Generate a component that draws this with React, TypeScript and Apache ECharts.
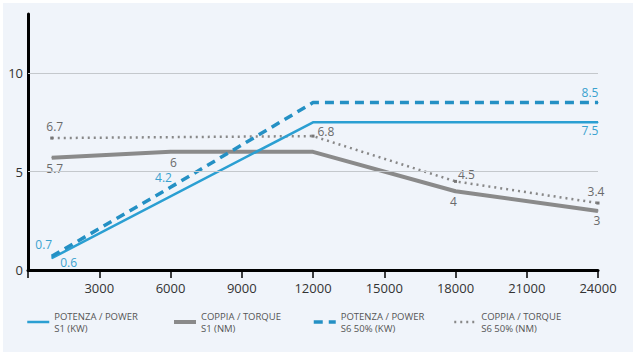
import React, { useEffect, useRef } from "react";
import * as echarts from "echarts";

// ---- data ----
const xTicks = [3000, 6000, 9000, 12000, 15000, 18000, 21000, 24000];
const yTicks = [0, 5, 10];

const seriesNames = [
  "POTENZA / POWER\nS1 (KW)",
  "COPPIA / TORQUE\nS1 (NM)",
  "POTENZA / POWER\nS6 50% (KW)",
  "COPPIA / TORQUE\nS6 50% (NM)",
];

const rpmPowerS1 = [1000, 12000, 24000];
const powerS1 = [0.6, 7.5, 7.5];

const rpmTorqueS1 = [1000, 6000, 12000, 18000, 24000];
const torqueS1 = [5.7, 6, 6, 4, 3];

const rpmPowerS6 = [1000, 6000, 12000, 24000];
const powerS6 = [0.7, 4.2, 8.5, 8.5];

const rpmTorqueS6 = [1000, 12000, 18000, 24000];
const torqueS6 = [6.7, 6.8, 4.5, 3.4];

// ---- label placement (layout, not data) ----
type LP = { position: any; offset: number[] } | null;
const powerS1Labels: LP[] = [
  { position: "right", offset: [4, 4] },
  null,
  { position: "bottom", offset: [-8, -2] },
];
const torqueS1Labels: LP[] = [
  { position: "bottom", offset: [3, 0] },
  { position: "bottom", offset: [3, 0] },
  null,
  { position: "bottom", offset: [-2, 0] },
  { position: "bottom", offset: [-1, -1] },
];
const powerS6Labels: LP[] = [
  { position: "top", offset: [-8, -1] },
  { position: "top", offset: [-7, 1] },
  null,
  { position: "top", offset: [-8, 0] },
];
const torqueS6Labels: LP[] = [
  { position: "top", offset: [3, 0] },
  { position: "right", offset: [-1, -5] },
  { position: "right", offset: [-3, -7] },
  { position: "top", offset: [-2, 0] },
];

const BLUE = "#2b9fd2";
const BLUE_DARK = "#2490c4";
const GREY = "#8a8a8a";
const BLUE_TEXT = "#3aa2cf";
const GREY_TEXT = "#6a6a6a";
const FONT = "'Open Sans', sans-serif";

function buildData(xs: number[], ys: number[], labels: LP[], color: string) {
  return xs.map((x, i) => {
    const lp = labels[i];
    return {
      value: [x, ys[i]],
      label: lp
        ? {
            show: true,
            position: lp.position,
            offset: lp.offset,
            distance: 4,
            color,
            fontSize: 12,
            fontFamily: FONT,
            formatter: (p: any) => String(p.value[1]),
          }
        : { show: false },
    };
  });
}

export default function App() {
  const ref = useRef<HTMLDivElement>(null);
  useEffect(() => {
    if (!ref.current) return;
    const chart = echarts.init(ref.current, null, { renderer: "svg" });
    const legendLefts = [26, 172, 312, 453];
    const option: any = {
      animation: false,
      backgroundColor: "#ffffff",
      textStyle: { fontFamily: FONT },
      graphic: [
        {
          type: "rect",
          z: -10,
          silent: true,
          shape: { x: 3, y: 3, width: 630, height: 349 },
          style: { fill: "#f0f4fa" },
        },
      ],
      grid: { left: 28, right: 41, top: 14, bottom: 86, containLabel: false },
      legend: seriesNames.map((name, i) => ({
        data: [name],
        left: legendLefts[i],
        top: 310,
        padding: 0,
        orient: "horizontal",
        itemWidth: 22,
        itemHeight: 10,
        itemGap: 6,
        textStyle: {
          fontSize: 9.5,
          color: "#555",
          fontFamily: FONT,
          lineHeight: 12,
        },
        itemStyle: { opacity: 0 },
        lineStyle: { width: "inherit", type: "inherit" },
      })),
      xAxis: {
        type: "value",
        min: 0,
        max: 24000,
        interval: 3000,
        axisLine: { show: true, lineStyle: { color: "#000", width: 3 } },
        axisTick: { show: true, length: 8, lineStyle: { color: "#000", width: 1.5 } },
        axisLabel: {
          margin: 11,
          fontSize: 13,
          color: "#333",
          fontFamily: FONT,
          formatter: (v: number) => (xTicks.includes(v) ? String(v) : ""),
        },
        splitLine: { show: false },
      },
      yAxis: {
        type: "value",
        min: 0,
        max: 13,
        interval: 5,
        axisLine: { show: true, lineStyle: { color: "#000", width: 3 } },
        axisTick: { show: false },
        axisLabel: {
          margin: 5,
          fontSize: 13,
          color: "#333",
          fontFamily: FONT,
          showMaxLabel: false,
          formatter: (v: number) => (yTicks.includes(v) ? String(v) : ""),
        },
        splitLine: { show: false },
      },
      series: [
        {
          type: "line",
          z: 1,
          data: [],
          silent: true,
          markLine: {
            silent: true,
            symbol: "none",
            label: { show: false },
            lineStyle: { color: "#c4c8cc", width: 1, type: "solid" },
            data: yTicks.filter((v) => v > 0).map((v) => ({ yAxis: v })),
          },
        },
        {
          name: seriesNames[0],
          type: "line",
          symbol: "circle",
          symbolSize: 1,
          z: 4,
          itemStyle: { color: BLUE },
          lineStyle: { color: BLUE, width: 2.5 },
          data: buildData(rpmPowerS1, powerS1, powerS1Labels, BLUE_TEXT),
        },
        {
          name: seriesNames[1],
          type: "line",
          symbol: "circle",
          symbolSize: 1,
          z: 3,
          itemStyle: { color: GREY },
          lineStyle: { color: GREY, width: 4 },
          data: buildData(rpmTorqueS1, torqueS1, torqueS1Labels, GREY_TEXT),
        },
        {
          name: seriesNames[2],
          type: "line",
          symbol: "circle",
          symbolSize: 1,
          z: 4,
          itemStyle: { color: BLUE_DARK },
          lineStyle: { color: BLUE_DARK, width: 3.5, type: [9, 6] },
          data: buildData(rpmPowerS6, powerS6, powerS6Labels, BLUE_TEXT),
        },
        {
          name: seriesNames[3],
          type: "line",
          symbol: "rect",
          symbolSize: 3,
          z: 3,
          itemStyle: { color: "#777" },
          lineStyle: { color: "#888", width: 2.5, type: [2, 4] },
          data: buildData(rpmTorqueS6, torqueS6, torqueS6Labels, GREY_TEXT),
        },
      ],
    };
    chart.setOption(option);
    return () => chart.dispose();
  }, []);
  return (
    <div
      ref={ref}
      style={{ position: "absolute", left: 0, top: 0, width: 639, height: 356 }}
    />
  );
}
